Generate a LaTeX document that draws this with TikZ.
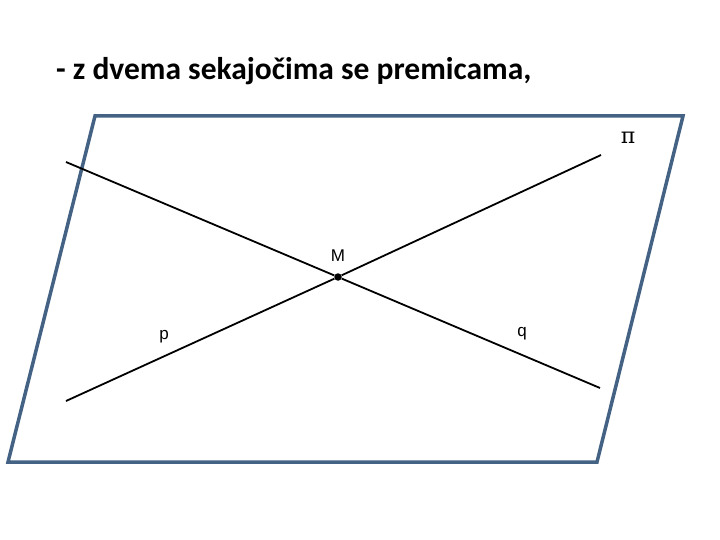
\documentclass[tikz,border=0pt]{standalone}
\usepackage{fontspec}
\setmainfont{Carlito}
\newfontfamily\labelfont{Liberation Sans}
\newfontfamily\pifont{DejaVu Serif}
\usetikzlibrary{positioning,arrows}
\definecolor{planeblue}{RGB}{68,98,132}

\begin{document}
\begin{tikzpicture}[x=1pt,y=-1pt]
        \useasboundingbox (0,0) rectangle (720,540);

        \draw (56,80) node[anchor=base west,inner sep=0pt] (title) {\fontsize{31.5}{36}\selectfont\bfseries - z dvema sekajočima se premicama,};

        \coordinate (A) at (95,116);

        \coordinate (B) at (683,116);

        \coordinate (C) at (597,462);

        \coordinate (D) at (8,462);

        \coordinate (p1) at (66,401);

        \coordinate (p2) at (601,155);

        \coordinate (q1) at (66,162);

        \coordinate (q2) at (600,388);

        \draw (338,277) node[circle,fill,inner sep=0pt,minimum size=7.5pt] (M) {};

        \draw (338,256) node (Mlab) {\labelfont\fontsize{17}{20}\selectfont M};

        \draw (164,337) node (plab) {\labelfont\fontsize{17}{20}\selectfont p};

        \draw (522,334) node (qlab) {\labelfont\fontsize{17}{20}\selectfont q};

        \draw (628,138) node (pi) {\pifont\fontsize{22}{26}\selectfont π};

        \draw[planeblue,line width=3.5pt,line join=miter] (A) -- (B) -- (C) -- (D) -- cycle;

        \draw[line width=1.8pt] (p1) -- (M) -- (p2);

        \draw[line width=1.8pt] (q1) -- (M) -- (q2);
      \end{tikzpicture}
\end{document}
